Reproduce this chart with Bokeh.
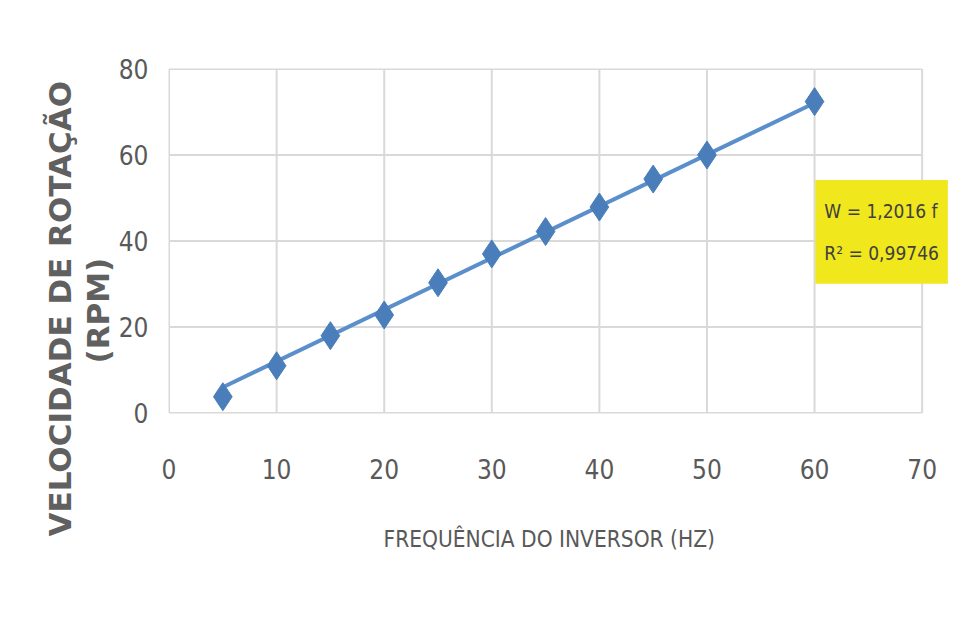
import math
from bokeh.plotting import figure
from bokeh.models import Label, FixedTicker, Range1d, Title
from bokeh.embed import file_html
from bokeh.resources import INLINE

# Data
freq_hz = [5, 10, 15, 20, 25, 30, 35, 40, 45, 50, 60]
speed_rpm = [3.8, 11.0, 18.0, 22.8, 30.3, 37.0, 42.2, 47.9, 54.4, 60.0, 72.4]
slope = 1.2016
trend_x = [5, 60]
x_ticks = [0, 10, 20, 30, 40, 50, 60, 70]
y_ticks = [0, 20, 40, 60, 80]
eq_text = "W = 1,2016 f\nR² = 0,99746"
x_title = "FREQUÊNCIA DO INVERSOR (HZ)"
y_title_1 = "VELOCIDADE DE ROTAÇÃO"
y_title_2 = "(RPM)"

NARROW = "'Liberation Sans Narrow', 'DejaVu Sans Condensed', sans-serif"
GRAY = "#595959"
BLUE = "#4a7ebb"
GRID = "#d9d9d9"

x_min, x_max = x_ticks[0], x_ticks[-1]
y_min, y_max = y_ticks[0], y_ticks[-1]

p = figure(width=949, height=615, output_backend="svg", toolbar_location=None,
           x_range=Range1d(-0.05, 72.45), y_range=Range1d(-0.1, 80.1),
           min_border_left=168, min_border_right=1, min_border_top=68,
           min_border_bottom=202)
p.outline_line_color = None
p.background_fill_color = "white"
p.border_fill_color = "white"

for ax in (p.xaxis[0], p.yaxis[0]):
    ax.axis_line_color = None
    ax.major_tick_line_color = None
    ax.minor_tick_line_color = None
    ax.major_label_text_font = NARROW
    ax.major_label_text_font_size = "26px"
    ax.major_label_text_color = GRAY

p.xaxis.ticker = FixedTicker(ticks=x_ticks)
p.yaxis.ticker = FixedTicker(ticks=y_ticks)
p.xaxis.major_label_standoff = 39
p.yaxis.major_label_standoff = 14

# X title as a title panel below the axis, placed to start where the reference does
p.add_layout(Title(text=x_title, align="left", offset=215, standoff=84,
                   text_font=NARROW, text_font_style="normal",
                   text_font_size="22.5px", text_color=GRAY), "below")

# grid drawn from the tick lists, bounded to the axis ranges
p.grid.grid_line_color = None
p.segment(x0=x_ticks, x1=x_ticks, y0=[y_min] * len(x_ticks), y1=[y_max] * len(x_ticks),
          line_color=GRID, line_width=2)
p.segment(x0=[x_min] * len(y_ticks), x1=[x_max] * len(y_ticks), y0=y_ticks, y1=y_ticks,
          line_color=GRID, line_width=2)

# Trend line from the fitted equation
trend_y = [slope * x for x in trend_x]
p.line(trend_x, trend_y, line_color="#5b8fcb", line_width=4)
p.scatter(freq_hz, speed_rpm, marker="diamond", size=28,
          fill_color=BLUE, line_color=BLUE)

# Y title as two left-side title panels
title_style = dict(text_font="DejaVu Sans", text_font_style="bold",
                   text_font_size="31px", text_color="#606060", align="left")
p.add_layout(Title(text=y_title_2, offset=50, standoff=0, **title_style), "left")
p.add_layout(Title(text=y_title_1, offset=-123, standoff=0, **title_style), "left")

# Equation box
p.add_layout(Label(x=60.07, y=42.1, text=eq_text,
                   text_align="left", text_baseline="middle",
                   text_font=NARROW, text_font_size="19px",
                   text_color="#404040", background_fill_color="#f0e81c",
                   padding=(9, 20), text_line_height=1.9))

open("out.html", "w").write(file_html(p, INLINE))
